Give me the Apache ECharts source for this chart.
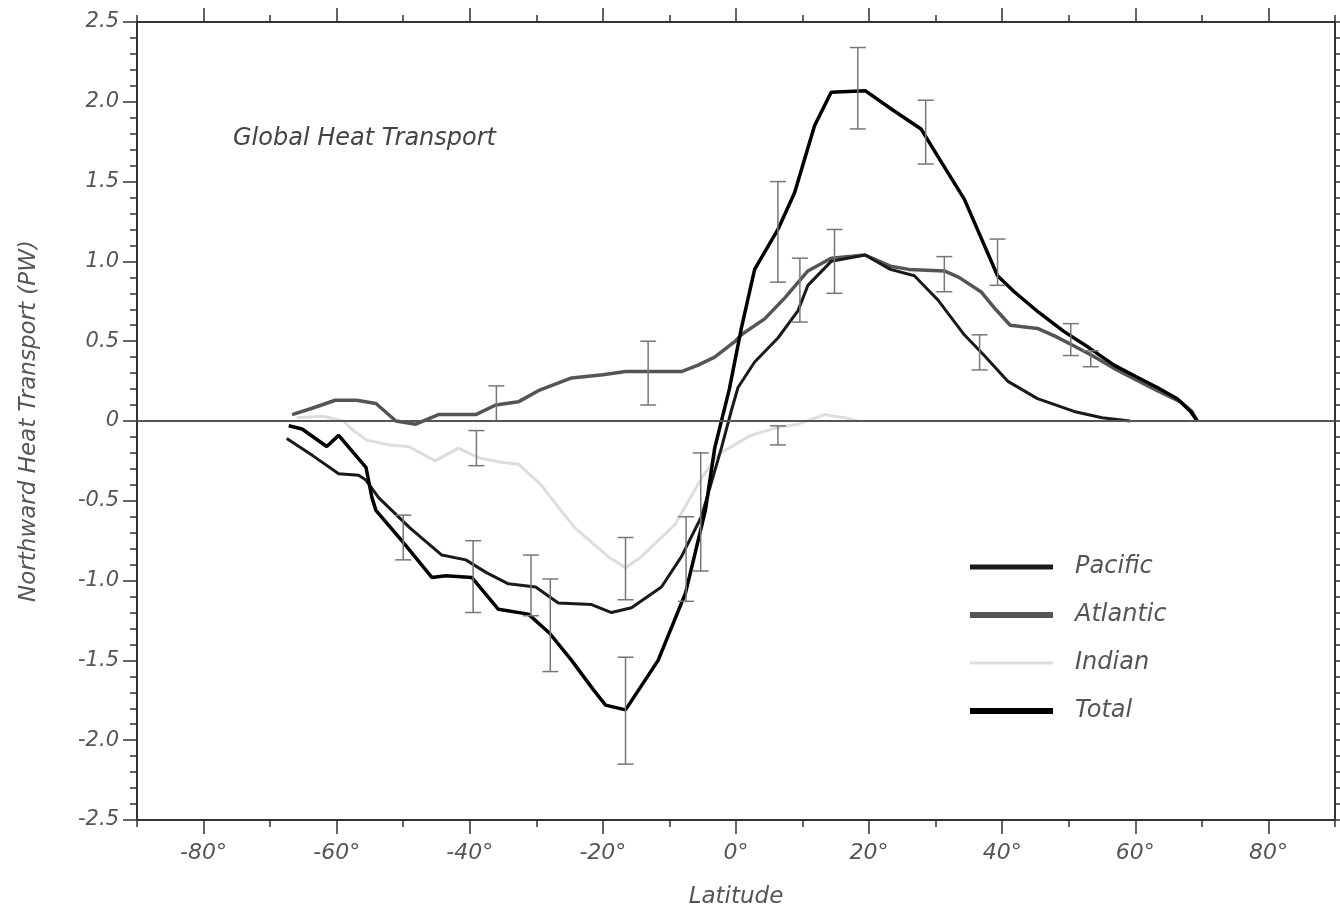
<!DOCTYPE html>
<html>
<head>
<meta charset="utf-8">
<script src="https://cdn.jsdelivr.net/npm/echarts@6/dist/echarts.min.js"></script>
<style>
  html, body { margin: 0; padding: 0; background: #fff; }
  #chart { width: 1340px; height: 914px; }
</style>
</head>
<body>
<div id="chart"></div>
<script>
// tick labels
var xTicks = [-80, -60, -40, -20, 0, 20, 40, 60, 80];
var yTicks = [-2.5, -2.0, -1.5, -1.0, -0.5, 0, 0.5, 1.0, 1.5, 2.0, 2.5];
var seriesNames = ["Pacific", "Atlantic", "Indian", "Total"];

// [latitude, PW]
var pacific = [[-67.5,-0.11],[-63.5,-0.22],[-59.7,-0.33],[-56.7,-0.34],[-55.6,-0.37],[-53.7,-0.48],[-49,-0.67],
  [-44.2,-0.84],[-40.6,-0.87],[-37.5,-0.95],[-34.2,-1.02],[-30.1,-1.04],[-26.7,-1.14],[-21.7,-1.15],[-18.7,-1.20],
  [-15.7,-1.17],[-11.2,-1.04],[-8.2,-0.85],[-5.2,-0.60],[-3.8,-0.40],[-2.2,-0.17],[-0.8,0.05],[0.3,0.21],[2.8,0.37],
  [6.3,0.52],[9.3,0.69],[10.8,0.85],[14.3,1.0],[19.4,1.04],[23.2,0.95],[26.8,0.91],[30.3,0.76],[34.3,0.54],
  [37.3,0.41],[40.8,0.25],[45.3,0.14],[50.8,0.06],[55,0.02],[59.2,0]];

var atlantic = [[-66.7,0.04],[-63.7,0.08],[-60.2,0.13],[-57,0.13],[-54.1,0.11],[-51.1,0.0],[-48.1,-0.02],[-44.7,0.04],
  [-39.1,0.04],[-36.1,0.10],[-32.7,0.12],[-29.7,0.19],[-24.7,0.27],[-20,0.29],[-16.6,0.31],[-8.2,0.31],[-5.7,0.35],
  [-3.2,0.40],[-0.1,0.50],[0.8,0.54],[4.3,0.64],[7.3,0.77],[10.8,0.94],[14.3,1.02],[19.4,1.04],[23.2,0.97],
  [26,0.95],[31.3,0.94],[33.5,0.90],[36.8,0.81],[39,0.70],[41.2,0.60],[45.3,0.58],[48,0.53],[50.8,0.47],
  [53.5,0.41],[56.8,0.33],[60,0.26],[63.3,0.19],[66.8,0.12],[68.5,0.06],[69.3,0]];

var indian = [[-66,0.02],[-62,0.03],[-59,0.0],[-57.5,-0.06],[-55.5,-0.12],[-52,-0.15],[-49.2,-0.16],[-45.2,-0.25],
  [-41.7,-0.17],[-38.7,-0.23],[-35,-0.26],[-32.7,-0.27],[-29.3,-0.40],[-26.5,-0.55],[-24.2,-0.67],[-19.2,-0.85],
  [-16.6,-0.92],[-14.2,-0.85],[-9.2,-0.65],[-5.2,-0.36],[-2.7,-0.21],[2.2,-0.09],[6.3,-0.04],[9.3,-0.02],
  [13.3,0.04],[16.3,0.02],[18.3,0]];

var total = [[-67.2,-0.03],[-65.2,-0.05],[-61.5,-0.16],[-59.7,-0.09],[-55.6,-0.29],[-54.7,-0.48],[-54.1,-0.56],
  [-50,-0.76],[-45.7,-0.98],[-43.6,-0.97],[-39.7,-0.98],[-35.7,-1.18],[-31.2,-1.21],[-28,-1.33],[-24.7,-1.50],
  [-21.5,-1.68],[-19.6,-1.78],[-16.6,-1.81],[-11.7,-1.50],[-7.6,-1.08],[-4.6,-0.56],[-3.2,-0.17],[-1.0,0.2],
  [0.8,0.58],[2.8,0.95],[6.3,1.20],[8.8,1.43],[11.8,1.85],[14.3,2.06],[19.4,2.07],[23.5,1.95],[27.8,1.83],
  [30.3,1.66],[34.3,1.39],[39.3,0.91],[41.8,0.81],[45.5,0.68],[49.3,0.56],[53,0.46],[56.8,0.35],[60,0.28],
  [63.3,0.21],[66.3,0.14],[68.3,0.06],[69.3,0]];

// error bars: [latitude, low, high]
var errBars = [[-50,-0.87,-0.59],[-39.5,-1.20,-0.75],[-39,-0.28,-0.06],[-36,0.0,0.22],[-30.8,-1.22,-0.84],
  [-27.9,-1.57,-0.99],[-16.6,-2.15,-1.48],[-16.6,-1.12,-0.73],[-13.2,0.10,0.50],[-7.5,-1.13,-0.60],
  [-5.3,-0.94,-0.20],[6.3,0.87,1.50],[6.3,-0.15,-0.03],[9.6,0.62,1.02],[14.8,0.80,1.20],[18.3,1.83,2.34],
  [28.5,1.61,2.01],[31.3,0.81,1.03],[36.6,0.32,0.54],[39.3,0.85,1.14],[50.3,0.41,0.61],[53.3,0.34,0.44]];

var FONT = "'DejaVu Sans', 'Liberation Sans', sans-serif";
var txt = { fontFamily: FONT, fontStyle: "italic", color: "#555", fontSize: 23 };

function minorX(){
  var a = [];
  for (var i = 0; i < xTicks.length; i++) { a.push(xTicks[i] - 10); }
  a.push(xTicks[xTicks.length - 1] + 10);
  return a;
}

function xAx(pos, major, showLabel){
  return {
    type: "value", min: -90, max: 90, position: pos, gridIndex: 0,
    axisLine: { show: major, onZero: false, lineStyle: { color: "#333", width: 2 } },
    axisTick: { show: true, inside: false, length: major ? 14 : 7,
      customValues: major ? xTicks : minorX(), lineStyle: { color: "#333", width: 1.5 } },
    axisLabel: showLabel ? { show: true, customValues: xTicks, margin: 22,
      formatter: function(v){ return v + "\u00b0"; }, fontFamily: FONT, fontStyle: "italic",
      color: "#555", fontSize: 22 } : { show: false },
    splitLine: { show: false },
    name: showLabel ? "Latitude" : "", nameLocation: "middle", nameGap: 66,
    nameTextStyle: txt
  };
}

function yAx(pos, showLabel){
  return {
    type: "value", min: yTicks[0], max: yTicks[yTicks.length - 1], interval: 0.5, position: pos,
    axisLine: { show: true, onZero: false, lineStyle: { color: "#333", width: 2 } },
    axisTick: { show: true, inside: false, length: 14, lineStyle: { color: "#333", width: 1.5 } },
    minorTick: { show: true, splitNumber: 5, length: 7, lineStyle: { color: "#333", width: 1.5 } },
    axisLabel: { show: showLabel, margin: 18, fontFamily: FONT, fontStyle: "italic", color: "#555", fontSize: 21,
      formatter: function(v){ return v === 0 ? "0" : v.toFixed(1); } },
    splitLine: { show: false },
    name: showLabel ? "Northward Heat Transport (PW)" : "", nameLocation: "middle", nameGap: 96,
    nameRotate: 90, nameTextStyle: txt
  };
}

function lineSeries(name, data, color, width){
  return {
    name: name, type: "line", data: data, symbol: "none", smooth: false,
    xAxisIndex: 0, yAxisIndex: 0,
    lineStyle: { color: color, width: width }, itemStyle: { color: color },
    z: 3
  };
}

function legendItem(name, width){
  return { name: name, lineStyle: { width: width }, itemStyle: { opacity: 0 } };
}

var chart = echarts.init(document.getElementById("chart"), null, { renderer: "canvas" });

chart.setOption({
  animation: false,
  backgroundColor: "#fff",
  grid: { left: 137, right: 5, top: 22, bottom: 90, containLabel: false },
  title: {
    text: "Global Heat Transport", left: 228, top: 122,
    textStyle: { fontFamily: FONT, fontStyle: "italic", fontWeight: "normal", color: "#444", fontSize: 24 }
  },
  legend: {
    data: [legendItem(seriesNames[0], 5), legendItem(seriesNames[1], 6), legendItem(seriesNames[2], 3), legendItem(seriesNames[3], 6)],
    orient: "vertical", left: 962, top: 550,
    itemWidth: 83, itemHeight: 14, itemGap: 24,
    itemStyle: { opacity: 0 },
    textStyle: { fontFamily: FONT, fontStyle: "italic", color: "#555", fontSize: 24, padding: [0, 0, 0, 17] }
  },
  xAxis: [xAx("bottom", true, true), xAx("bottom", false, false), xAx("top", true, false), xAx("top", false, false)],
  yAxis: [yAx("left", true), yAx("right", false)],
  series: [
    lineSeries("Atlantic", atlantic, "#555", 3.5),
    lineSeries("Indian", indian, "#ddd", 3),
    lineSeries("Pacific", pacific, "#1a1a1a", 3),
    lineSeries("Total", total, "#000", 3.5),
    {
      name: "errors", type: "custom", data: errBars, xAxisIndex: 0, yAxisIndex: 0, z: 4,
      encode: { x: 0, y: [1, 2] },
      renderItem: function(params, api){
        var x = api.value(0);
        var top = api.coord([x, api.value(2)]);
        var bot = api.coord([x, api.value(1)]);
        var w = 8;
        var st = { stroke: "#777", lineWidth: 1.5 };
        return { type: "group", children: [
          { type: "line", shape: { x1: top[0], y1: top[1], x2: bot[0], y2: bot[1] }, style: st },
          { type: "line", shape: { x1: top[0] - w, y1: top[1], x2: top[0] + w, y2: top[1] }, style: st },
          { type: "line", shape: { x1: bot[0] - w, y1: bot[1], x2: bot[0] + w, y2: bot[1] }, style: st }
        ]};
      }
    },
    {
      name: "zero", type: "line", data: [], xAxisIndex: 0, yAxisIndex: 0,
      markLine: { silent: true, symbol: "none", label: { show: false },
        lineStyle: { color: "#555", width: 2, type: "solid" }, data: [{ yAxis: 0 }] }
    }
  ]
});

window.addEventListener("resize", function(){ chart.resize(); }, false);
</script>
</body>
</html>
